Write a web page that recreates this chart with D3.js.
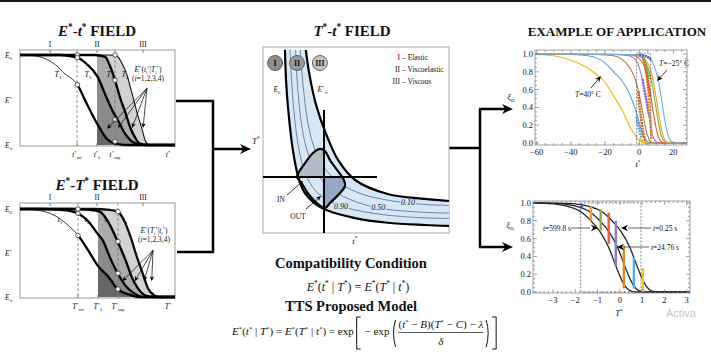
<!DOCTYPE html>
<html>
<head>
<meta charset="utf-8">
<script src="https://cdn.jsdelivr.net/npm/d3@7"></script>
<style>
  body { margin: 0; background: #fff; }
  svg { display: block; }
  svg text { font-family: "Liberation Serif", "DejaVu Serif", serif; fill: #111; }
</style>
</head>
<body>
<div id="chart"></div>
<script>
// ---------- E*-t* field (t* 0..10, E* 0..1) ----------
const regionNames = ['I', 'II', 'III'];
const regionT = [1.94, 4.97, 7.94];
const etT1 = [[0.1, 1], [1, 0.99], [1.6, 0.96], [2.3, 0.89], [2.9, 0.79], [3.7, 0.67], [4.3, 0.46], [5, 0.23], [5.6, 0.07], [6.3, 0.01], [7.1, 0], [10, 0]];
const etT2 = [[0, 1], [2.6, 1], [3.7, 0.97], [4.3, 0.9], [5, 0.76], [5.6, 0.52], [6, 0.37], [6.3, 0.28], [6.8, 0.12], [7.3, 0.03], [8, 0], [10, 0]];
const etT3 = [[0, 1], [4.8, 1], [5.5, 0.98], [5.8, 0.88], [6.13, 0.72], [6.45, 0.53], [6.8, 0.36], [7.1, 0.2], [7.4, 0.09], [7.7, 0.02], [8.3, 0], [10, 0]];
const etT4 = [[0, 1], [5.8, 1], [6.3, 0.98], [6.6, 0.9], [6.9, 0.78], [7.2, 0.59], [7.55, 0.36], [7.9, 0.16], [8.1, 0.04], [8.4, 0], [10, 0]];
const etMarks = [[3.7, 1], [3.7, 0.97], [3.7, 0.67], [6.13, 1], [6.13, 0.72], [6.13, 0.28], [6.13, 0.04]];
const etLimits = [3.68, 4.97, 6.13]; // t*inf, t*lambda, t*sup
const etCurveLabelPos = [[2.45, 0.76], [4.39, 0.76], [5.81, 0.76], [6.77, 0.76]];
const etArrowTips = [[5.61, 0.18], [6.32, 0.19], [7.23, 0.19], [7.94, 0.19]];

// ---------- E*-T* field ----------
const eTt1 = [[0.1, 1], [1, 0.99], [1.6, 0.97], [2.3, 0.92], [3, 0.83], [3.75, 0.7], [4.4, 0.53], [5, 0.36], [5.7, 0.23], [6.3, 0.09], [7, 0.03], [7.7, 0], [10, 0]];
const eTt2 = [[0, 1], [1.3, 1], [2.6, 0.99], [3.2, 0.98], [3.75, 0.95], [4.4, 0.86], [5, 0.72], [5.35, 0.64], [5.8, 0.45], [6.3, 0.27], [6.85, 0.12], [7.3, 0.05], [8, 0], [10, 0]];
const eTt3 = [[0, 1], [3.2, 1], [4.5, 0.99], [5.15, 0.97], [5.7, 0.85], [6.3, 0.63], [6.85, 0.4], [7.2, 0.23], [7.6, 0.1], [8.05, 0.02], [8.7, 0], [10, 0]];
const eTt4 = [[0, 1], [4.8, 1], [5.8, 0.99], [6.3, 0.97], [6.7, 0.875], [7.1, 0.7], [7.55, 0.45], [7.95, 0.25], [8.25, 0.1], [8.65, 0.02], [9, 0], [10, 0]];
const eTMarks = [[3.74, 1], [3.74, 0.95], [3.74, 0.7], [6.32, 0.97], [6.32, 0.63], [6.32, 0.27], [6.32, 0.09]];
const eTLimits = [3.74, 5.03, 6.32];
const eTCurveLabelPos = [[2.58, 0.85], [4.32, 0.85], [5.61, 0.85], [6.77, 0.85]];
const eTArrowTips = [[6.6, 0.18], [7.4, 0.18], [8.0, 0.18], [8.5, 0.18]];

// ---------- T*-t* field (t* 0..10, T* 0..10) ----------
const bandOuter = [[1.18, 9.85], [1.24, 8.2], [1.34, 6.8], [1.6, 4.5], [1.9, 3.0], [2.25, 2.15], [3.15, 1.35], [4.95, 0.8], [6.7, 0.55], [8.7, 0.43], [10, 0.38]];
const bandInner = [[2.3, 9.85], [2.5, 8.5], [2.85, 6.9], [3.4, 5.3], [4.05, 3.9], [4.95, 2.85], [6.7, 2.1], [8.7, 1.83], [10, 1.72]];
const contour90 = [[1.45, 9.85], [1.55, 8], [1.72, 6], [1.95, 4.4], [2.35, 3.0], [3.0, 2.1], [4.2, 1.45], [6, 1.05], [8, 0.85], [10, 0.78]];
const contour50 = [[1.75, 9.85], [1.85, 8], [2.05, 6], [2.35, 4.5], [2.85, 3.3], [3.6, 2.4], [4.8, 1.75], [6.2, 1.35], [8, 1.15], [10, 1.07]];
const contour10 = [[2.0, 9.85], [2.15, 8], [2.4, 6], [2.75, 4.6], [3.3, 3.5], [4.1, 2.7], [5.3, 2.1], [6.8, 1.75], [8.5, 1.55], [10, 1.48]];
const contourLabels = [['0.90', 4.2, 1.45], ['0.50', 6.2, 1.35], ['0.10', 7.8, 1.63]];
const compatBlob = [[1.83, 3.01], [2.26, 3.76], [2.69, 4.3], [3.06, 4.52], [3.33, 4.41], [3.6, 3.92], [3.98, 3.39], [4.35, 2.85], [4.41, 2.53], [4.14, 2.15], [3.6, 1.61], [3.33, 1.34], [2.9, 1.61], [2.37, 2.2], [2.04, 2.74]];
const crossT = 3.28, crossTT = 3.01;
const regionCircles = [[0.65, 9.14], [1.83, 9.14], [3.06, 9.14]];
const regionFill = ['#8e8e8e', '#9a9a9e', '#c4c4c4'];
const legendNum = ['I', 'II', 'III'];
const legendText = ['Elastic', 'Viscoelastic', 'Viscous'];

// ---------- example: xi vs t* ----------
const tempYellow = [[-61, 0.995], [-50, 0.98], [-40, 0.93], [-30, 0.84], [-25, 0.77], [-20, 0.68], [-15, 0.53], [-10, 0.37], [-5, 0.17], [-2, 0.08], [0, 0.03], [3, 0.005], [6, 0], [28, 0]];
const tempBlue = [[-61, 1], [-40, 0.995], [-30, 0.98], [-20, 0.9], [-15, 0.8], [-8, 0.64], [-5, 0.52], [-3, 0.42], [-1, 0.3], [1, 0.16], [3, 0.06], [5, 0.015], [8, 0], [28, 0]];
const tempBrown = [[-61, 1], [-25, 0.995], [-15, 0.98], [-10, 0.94], [-5, 0.83], [-2, 0.7], [0, 0.55], [2, 0.35], [4, 0.15], [6, 0.03], [8, 0], [28, 0]];
const tempPurple = [[-61, 1], [-15, 0.995], [-6, 0.98], [-1, 0.9], [2, 0.7], [4, 0.5], [6, 0.27], [8, 0.08], [10, 0.015], [12, 0], [28, 0]];
const tempRed = [[-61, 1], [-10, 0.995], [-3, 0.98], [2, 0.9], [5, 0.72], [7, 0.5], [9, 0.26], [11, 0.08], [13, 0.015], [15, 0], [28, 0]];
const tempGreen = [[-61, 1], [-8, 0.995], [-1, 0.98], [4, 0.9], [7, 0.72], [9, 0.5], [11, 0.26], [13, 0.08], [15, 0.015], [17, 0], [28, 0]];
const tempOrange = [[-61, 1], [-6, 0.995], [0, 0.98], [5, 0.9], [8, 0.72], [10, 0.5], [12, 0.26], [14, 0.08], [16, 0.015], [18, 0], [28, 0]];
const tempSky = [[-61, 1], [-2, 0.995], [4, 0.98], [8, 0.9], [11, 0.72], [13, 0.5], [15, 0.26], [17, 0.08], [19, 0.015], [21, 0], [28, 0]];
const tempCurves = [tempYellow, tempBlue, tempBrown, tempPurple, tempRed, tempGreen, tempOrange, tempSky];
const tempColors = ['#f2b600', '#5aa0d8', '#c8753a', '#9a7ac8', '#ea5a30', '#86b13c', '#f0a030', '#6aaee4'];
const obsBlue = [[0, 0.99], [3, 0.98], [5, 0.965], [7, 0.94]];
const obsGreen = [[2, 0.97], [3.5, 0.9], [5, 0.8], [6, 0.72]];
const obsRed = [[2.5, 0.95], [4, 0.82], [5.5, 0.65], [6.5, 0.52]];
const obsOrange = [[4, 0.85], [5, 0.65], [6, 0.4], [7, 0.15], [7.5, 0.05]];
const obsPurple = [[2, 0.72], [3, 0.6], [4.5, 0.45], [6, 0.3]];
const obsBrown = [[-0.5, 0.58], [0, 0.45], [1, 0.3], [2, 0.15], [3, 0.06], [4, 0.02]];
const obsSky = [[-1.5, 0.3], [-0.5, 0.2], [0.5, 0.12], [1.5, 0.06]];
const obsYellow = [[0, 0.05], [1.5, 0.03], [3, 0.01], [5, 0.005]];
const obsSeries = [obsYellow, obsSky, obsBrown, obsPurple, obsOrange, obsRed, obsGreen, obsBlue];
const obsColors = ['#f2b600', '#4aa8e0', '#b86a2a', '#8a6cc8', '#f09020', '#e84a28', '#78a830', '#3a64c0'];
const tTicks = [-60, -40, -20, 0, 20];
const xiTicks = [0, 0.2, 0.4, 0.6, 0.8, 1.0];
const topWindow = [[-1.5, 6.7], [-0.01, 1.01]];

// ---------- example: xi vs T* ----------
const time599 = [[-3.9, 1], [-3.3, 0.995], [-2.8, 0.985], [-2.3, 0.96], [-1.8, 0.91], [-1.3, 0.8], [-0.9, 0.68], [-0.5, 0.5], [-0.25, 0.34], [0, 0.18], [0.25, 0.06], [0.5, 0.01], [0.75, 0], [3.15, 0]];
const time24 = [[-3.9, 1], [-2.9, 0.995], [-2.4, 0.985], [-1.9, 0.96], [-1.4, 0.91], [-0.9, 0.8], [-0.5, 0.68], [-0.1, 0.5], [0.15, 0.34], [0.4, 0.18], [0.65, 0.06], [0.9, 0.01], [1.15, 0], [3.15, 0]];
const time025 = [[-3.9, 1], [-2.4, 0.995], [-1.85, 0.985], [-1.35, 0.96], [-0.85, 0.91], [-0.35, 0.8], [0.05, 0.68], [0.45, 0.5], [0.7, 0.34], [0.95, 0.18], [1.2, 0.06], [1.45, 0.01], [1.7, 0], [3.15, 0]];
const barT = [-1.7, -1.3, -0.86, -0.5, -0.18, 0.18, 0.63, 1.03];
const barLo = [0.93, 0.8, 0.69, 0.54, 0.3, 0.04, 0.04, 0.0];
const barHi = [0.99, 0.96, 0.93, 0.89, 0.8, 0.52, 0.39, 0.27];
const barColors = ['#3a64c0', '#f0a030', '#86b13c', '#f06030', '#8a7ad0', '#e08a20', '#4ab0e0', '#f0c020'];
const TTicks = [-3, -2, -1, 0, 1, 2, 3];
const bottomWindow = [[-1.76, 0.95], [0, 1.0]];

// ---------------------------------------------------------------
const W = 711, H = 362;
const SERIF = '"Liberation Serif", "DejaVu Serif", serif';
const svg = d3.select('#chart').append('svg').attr('width', W).attr('height', H)
  .attr('font-family', SERIF);
const defs = svg.append('defs');

svg.append('rect').attr('x', 0).attr('y', 0).attr('width', W).attr('height', 2).attr('fill', '#1a1a1a');

// rich text: parts = [text, flags] ; flags i=italic b=bold ^=sup _=sub
function rich(g, x, y, parts, size, anchor) {
  const t = g.append('text').attr('x', x).attr('y', y).style('font-family', SERIF)
    .attr('font-size', size).attr('text-anchor', anchor || 'start');
  let cur = 0;
  parts.forEach(([s, f = '']) => {
    const lvl = f.includes('^') ? -0.4 * size : f.includes('_') ? 0.25 * size : 0;
    const sp = t.append('tspan').text(s).attr('dy', lvl - cur);
    cur = lvl;
    if (lvl) sp.attr('font-size', size * 0.62);
    if (f.includes('i')) sp.attr('font-style', 'italic');
    if (f.includes('b')) sp.attr('font-weight', 'bold');
  });
  return t;
}

function arrowHead(g, x, y, ang, h) {
  g.append('path')
    .attr('d', `M0,0L${-h},${-h * 0.45}L${-h * 0.7},0L${-h},${h * 0.45}Z`)
    .attr('transform', `translate(${x},${y}) rotate(${ang * 180 / Math.PI})`)
    .attr('fill', '#000');
}

function arrow(g, x1, y1, x2, y2, w, h) {
  const a = Math.atan2(y2 - y1, x2 - x1);
  g.append('line').attr('x1', x1).attr('y1', y1)
    .attr('x2', x2 - Math.cos(a) * h * 0.6).attr('y2', y2 - Math.sin(a) * h * 0.6)
    .attr('stroke', '#000').attr('stroke-width', w);
  arrowHead(g, x2, y2, a, h);
}

// ---------- left field panels ----------
function fieldPanel(o) {
  const x = d3.scaleLinear().domain([0, 10]).range([20, 175]);
  const y = d3.scaleLinear().domain([0, 1]).range([o.yBot, o.yTop]);
  const g = svg.append('g');
  const line = d3.line().x(d => x(d[0])).y(d => y(d[1])).curve(d3.curveMonotoneX);
  const area = d3.area().x(d => x(d[0])).y0(y(0)).y1(d => y(d[1])).curve(d3.curveMonotoneX);

  rich(g, 97, o.titleY, o.title, 15, 'middle');

  g.append('rect').attr('x', 20).attr('y', o.boxTop).attr('width', 155).attr('height', o.boxBot - o.boxTop)
    .attr('fill', '#fff').attr('stroke', '#999').attr('stroke-width', 1);

  const cid = 'clipL' + o.id;
  defs.append('clipPath').attr('id', cid).append('rect')
    .attr('x', x(o.limits[1])).attr('y', o.boxTop).attr('width', 175 - x(o.limits[1])).attr('height', o.boxBot - o.boxTop);
  const sh = g.append('g').attr('clip-path', `url(#${cid})`);
  const fills = ['#d2d2d2', '#ababab', '#8a8a8a', '#666'];
  [o.curves[3], o.curves[2], o.curves[1], o.curves[0]].forEach((c, i) => {
    sh.append('path').attr('d', area(c)).attr('fill', fills[i]);
  });

  // dashed limit lines
  [o.limits[0], o.limits[2]].forEach(v => {
    g.append('line').attr('x1', x(v)).attr('x2', x(v)).attr('y1', o.boxTop).attr('y2', o.boxBot)
      .attr('stroke', '#777').attr('stroke-width', 0.8).attr('stroke-dasharray', '3,2');
  });

  // ticks
  regionT.forEach((v, i) => {
    g.append('line').attr('x1', x(v)).attr('x2', x(v)).attr('y1', o.boxTop).attr('y2', o.boxTop + 3).attr('stroke', '#777');
    g.append('text').attr('x', x(v)).attr('y', o.boxTop - 3).attr('text-anchor', 'middle')
      .attr('font-size', 7.5).text(regionNames[i]);
  });
  o.limits.forEach(v => {
    g.append('line').attr('x1', x(v)).attr('x2', x(v)).attr('y1', o.boxBot).attr('y2', o.boxBot - 3).attr('stroke', '#777');
  });

  // curves
  const cidT = 'clipT' + o.id;
  defs.append('clipPath').attr('id', cidT).append('rect')
    .attr('x', x(o.limits[0])).attr('y', 0).attr('width', 200).attr('height', H);
  g.append('path').attr('d', line(o.curves[0])).attr('fill', 'none').attr('stroke', '#222').attr('stroke-width', 0.9);
  g.append('path').attr('d', line(o.curves[0])).attr('fill', 'none').attr('stroke', '#000').attr('stroke-width', 2.3)
    .attr('clip-path', `url(#${cidT})`);
  g.append('path').attr('d', line(o.curves[3])).attr('fill', 'none').attr('stroke', '#111').attr('stroke-width', o.t4w);
  [o.curves[1], o.curves[2]].forEach(c => {
    g.append('path').attr('d', line(c)).attr('fill', 'none').attr('stroke', '#000').attr('stroke-width', 2.3);
  });

  // markers
  g.selectAll('circle.mk').data(o.marks).enter().append('circle')
    .attr('cx', d => x(d[0])).attr('cy', d => y(d[1])).attr('r', 2.3)
    .attr('fill', '#fff').attr('stroke', '#333').attr('stroke-width', 0.8);

  // curve labels
  o.curveLabelPos.forEach((p, i) => {
    rich(g, x(p[0]), y(p[1]), [[o.curveSym, 'i'], [String(i + 1), '_']], 8, 'middle');
  });

  // fan arrows
  const ox = x(o.fanFrom[0]), oy = y(o.fanFrom[1]);
  o.tips.forEach(p => arrow(g, ox, oy, x(p[0]), y(p[1]), 0.7, 5));
  rich(g, x(o.fanFrom[0]) + 1, o.noteY, o.note, 7.5, 'middle');
  rich(g, x(o.fanFrom[0]) + 1, o.noteY + 9, [['(', ''], ['i', 'i'], ['=1,2,3,4)', '']], 7.5, 'middle');

  // left labels
  rich(g, 5, y(1) + 3, [['E', 'i'], ['0', '_']], 7.5);
  rich(g, 5, y(0.5) + 3, [['E', 'i'], ['*', '^']], 7.5);
  rich(g, 5, y(0) + 3, [['E', 'i'], ['∞', '_']], 7.5);

  // bottom labels
  const sub = ['inf', 'λ', 'sup'];
  o.limits.forEach((v, i) => {
    rich(g, x(v), o.boxBot + 11, [[o.axisSym, 'i'], ['*', '^'], [sub[i], '_']], 7.5, 'middle');
  });
  rich(g, x(9.55), o.boxBot + 11, [[o.axisSym, 'i'], ['*', '^']], 7.5, 'middle');
}

fieldPanel({
  id: 1, yTop: 55, yBot: 145, boxTop: 50, boxBot: 146, titleY: 36,
  title: [['E', 'bi'], ['*', 'b^'], ['-', 'b'], ['t', 'bi'], ['*', 'b^'], [' FIELD', 'b']],
  curves: [etT1, etT2, etT3, etT4], marks: etMarks, limits: etLimits, curveLabelPos: etCurveLabelPos,
  curveSym: 'T', axisSym: 't', t4w: 1.1, fanFrom: [8.19, 0.63], tips: etArrowTips, noteY: 72,
  note: [['E', 'i'], ['*', '^'], ['(', ''], ['t', 'i'], ['i', '_'], ['*', '^'], ['|', ''], ['T', 'i'], ['i', '_'], ['*', '^'], [')', '']]
});
fieldPanel({
  id: 2, yTop: 209, yBot: 297, boxTop: 203, boxBot: 298, titleY: 190,
  title: [['E', 'bi'], ['*', 'b^'], ['-', 'b'], ['T', 'bi'], ['*', 'b^'], [' FIELD', 'b']],
  curves: [eTt1, eTt2, eTt3, eTt4], marks: eTMarks, limits: eTLimits, curveLabelPos: eTCurveLabelPos,
  curveSym: 't', axisSym: 'T', t4w: 2.3, fanFrom: [8.58, 0.53], tips: eTArrowTips, noteY: 233,
  note: [['E', 'i'], ['*', '^'], ['(', ''], ['T', 'i'], ['i', '_'], ['*', '^'], ['|', ''], ['t', 'i'], ['i', '_'], ['*', '^'], [')', '']]
});

// ---------- connectors ----------
const conn = svg.append('g');
conn.append('path').attr('d', 'M176,101H213V252H177').attr('fill', 'none').attr('stroke', '#000').attr('stroke-width', 2.5);
arrow(conn, 213, 149, 251, 149, 2.5, 11);
conn.append('path').attr('d', 'M449,148H480M480,109V247').attr('fill', 'none').attr('stroke', '#000').attr('stroke-width', 2.5);
arrow(conn, 479, 109, 513, 109, 2.5, 11);
arrow(conn, 479, 247, 513, 247, 2.5, 11);

// ---------- T*-t* field ----------
{
  const x = d3.scaleLinear().domain([0, 10]).range([263, 449]);
  const y = d3.scaleLinear().domain([0, 10]).range([233, 47]);
  const g = svg.append('g');
  const line = d3.line().x(d => x(d[0])).y(d => y(d[1])).curve(d3.curveCatmullRom);

  rich(g, 352, 36, [['T', 'bi'], ['*', 'b^'], ['-', 'b'], ['t', 'bi'], ['*', 'b^'], [' FIELD', 'b']], 15, 'middle');

  g.append('rect').attr('x', 263).attr('y', 47).attr('width', 186).attr('height', 186)
    .attr('fill', '#fff').attr('stroke', '#aaa').attr('stroke-width', 1);

  const pOut = line(bandOuter), pIn = line(bandInner.slice().reverse());
  g.append('path').attr('d', pOut + 'L' + pIn.slice(1) + 'Z').attr('fill', '#d6e8f8');

  [contour90, contour50, contour10].forEach(c => {
    g.append('path').attr('d', line(c)).attr('fill', 'none').attr('stroke', '#44586e').attr('stroke-width', 0.7);
  });
  contourLabels.forEach(([s, a, b]) => {
    g.append('text').attr('x', x(a)).attr('y', y(b) + 2.5).attr('text-anchor', 'middle')
      .attr('font-size', 8).attr('font-style', 'italic')
      .attr('stroke', '#d6e8f8').attr('stroke-width', 3).attr('paint-order', 'stroke').text(s);
  });

  // compatibility blob
  const blobLine = d3.line().x(d => x(d[0])).y(d => y(d[1])).curve(d3.curveCatmullRomClosed);
  defs.append('clipPath').attr('id', 'blobClip').append('path').attr('d', blobLine(compatBlob));
  const bq = g.append('g').attr('clip-path', 'url(#blobClip)');
  bq.append('rect').attr('x', x(0)).attr('y', y(10)).attr('width', x(crossT) - x(0)).attr('height', y(crossTT) - y(10)).attr('fill', '#b2bcc7');
  bq.append('rect').attr('x', x(crossT)).attr('y', y(crossTT)).attr('width', x(10) - x(crossT)).attr('height', y(0) - y(crossTT)).attr('fill', '#95a8c6');

  g.append('path').attr('d', pOut).attr('fill', 'none').attr('stroke', '#000').attr('stroke-width', 2.2);
  g.append('path').attr('d', line(bandInner)).attr('fill', 'none').attr('stroke', '#000').attr('stroke-width', 2.2);

  g.append('line').attr('x1', x(0)).attr('x2', x(6.13)).attr('y1', y(crossTT)).attr('y2', y(crossTT)).attr('stroke', '#000').attr('stroke-width', 2);
  g.append('line').attr('x1', x(crossT)).attr('x2', x(crossT)).attr('y1', y(6.61)).attr('y2', y(0)).attr('stroke', '#000').attr('stroke-width', 2);
  bq.append('line').attr('x1', x(0)).attr('x2', x(crossT)).attr('y1', y(crossTT)).attr('y2', y(crossTT)).attr('stroke', '#888').attr('stroke-width', 2.2);
  bq.append('line').attr('x1', x(crossT)).attr('x2', x(crossT)).attr('y1', y(crossTT)).attr('y2', y(0)).attr('stroke', '#888').attr('stroke-width', 2.2);
  g.append('path').attr('d', blobLine(compatBlob)).attr('fill', 'none').attr('stroke', '#000').attr('stroke-width', 2.2);

  // region circles
  regionCircles.forEach((p, i) => {
    g.append('circle').attr('cx', x(p[0])).attr('cy', y(p[1])).attr('r', 7.5)
      .attr('fill', regionFill[i]).attr('stroke', '#444').attr('stroke-width', 0.8);
    g.append('text').attr('x', x(p[0])).attr('y', y(p[1]) + 3).attr('text-anchor', 'middle')
      .attr('font-size', 8).attr('font-weight', 'bold').text(legendNum[i]);
  });
  legendNum.forEach((s, i) => {
    g.append('text').attr('x', 400).attr('y', 60 + i * 12).attr('text-anchor', 'end').attr('font-size', 7.5).text(s);
    g.append('text').attr('x', 402).attr('y', 60 + i * 12).attr('font-size', 7.5).text('– ' + legendText[i]);
  });
  rich(g, x(0.75), y(7.6), [['E', 'i'], ['0', '_']], 7.5, 'middle');
  rich(g, x(3.2), y(7.6), [['E', 'i'], ['*', '^'], ['∞', '_']], 7.5, 'middle');

  g.append('text').attr('x', 281).attr('y', 202).attr('text-anchor', 'middle').attr('font-size', 7.5).text('IN');
  g.append('text').attr('x', 298).attr('y', 219).attr('text-anchor', 'middle').attr('font-size', 7.5).text('OUT');
  arrow(g, 287, 195, 303, 181, 0.8, 5);
  arrow(g, 306, 209, 321, 196, 0.8, 5);

  rich(g, 355, 244, [['t', 'i'], ['*', '^']], 9, 'middle');
  rich(g, 252, 144, [['T', 'i'], ['*', '^']], 9, 'start');
}

// ---------- formulas ----------
{
  const g = svg.append('g');
  rich(g, 351, 268, [['Compatibility Condition', 'b']], 14.5, 'middle');
  rich(g, 358, 291, [['E', 'i'], ['*', '^'], ['(', ''], ['t', 'i'], ['*', '^'], [' | ', ''], ['T', 'i'], ['*', '^'],
    [') = ', ''], ['E', 'i'], ['*', '^'], ['(', ''], ['T', 'i'], ['*', '^'], [' | ', ''], ['t', 'i'], ['*', '^'], [')', '']], 12, 'middle');
  rich(g, 351, 311, [['TTS Proposed Model', 'b']], 14.5, 'middle');

  let fx = 232;
  const fy = 335;
  const t1 = rich(g, fx, fy, [['E', 'i'], ['*', '^'], ['(', ''], ['t', 'i'], ['*', '^'], [' | ', ''], ['T', 'i'], ['*', '^'],
    [') = ', ''], ['E', 'i'], ['*', '^'], ['(', ''], ['T', 'i'], ['*', '^'], [' | ', ''], ['t', 'i'], ['*', '^'], [') = exp', '']], 11);
  fx += t1.node().getComputedTextLength() + 3;
  const pth = d => g.append('path').attr('d', d).attr('fill', 'none').attr('stroke', '#111').attr('stroke-width', 1);
  pth(`M${fx + 4},317H${fx}V349H${fx + 4}`);
  fx += 8;
  const t2 = rich(g, fx, fy, [['− exp', '']], 11);
  fx += t2.node().getComputedTextLength() + 3;
  pth(`M${fx + 3},320Q${fx - 1},333 ${fx + 3},347`);
  fx += 6;
  const num = rich(g, fx, 328, [['(', ''], ['t', 'i'], ['*', '^'], [' − ', ''], ['B', 'i'], [')(', ''], ['T', 'i'], ['*', '^'],
    [' − ', ''], ['C', 'i'], [') − ', ''], ['λ', 'i']], 11);
  const nw = num.node().getComputedTextLength();
  g.append('line').attr('x1', fx).attr('x2', fx + nw).attr('y1', 332.5).attr('y2', 332.5).attr('stroke', '#111').attr('stroke-width', 0.7);
  rich(g, fx + nw / 2, 345, [['δ', 'i']], 11, 'middle');
  fx += nw + 3;
  pth(`M${fx},320Q${fx + 4},333 ${fx},347`);
  fx += 6;
  pth(`M${fx},317H${fx + 4}V349H${fx}`);
}

// ---------- example panels ----------
function framedAxes(g, x, y, xTicks, xMinor, yTicks, yMinor, xFmt, yFmt) {
  const [x0, x1] = x.range(), [y0, y1] = y.range();
  g.append('rect').attr('x', x0).attr('y', y1).attr('width', x1 - x0).attr('height', y0 - y1)
    .attr('fill', 'none').attr('stroke', '#888').attr('stroke-width', 0.8);
  const tk = (vals, len, horiz) => vals.forEach(v => {
    if (horiz) {
      g.append('line').attr('x1', x(v)).attr('x2', x(v)).attr('y1', y0).attr('y2', y0 - len).attr('stroke', '#777').attr('stroke-width', 0.7);
      g.append('line').attr('x1', x(v)).attr('x2', x(v)).attr('y1', y1).attr('y2', y1 + len).attr('stroke', '#777').attr('stroke-width', 0.7);
    } else {
      g.append('line').attr('y1', y(v)).attr('y2', y(v)).attr('x1', x0).attr('x2', x0 + len).attr('stroke', '#777').attr('stroke-width', 0.7);
      g.append('line').attr('y1', y(v)).attr('y2', y(v)).attr('x1', x1).attr('x2', x1 - len).attr('stroke', '#777').attr('stroke-width', 0.7);
    }
  });
  tk(xTicks, 4, true); tk(xMinor, 2, true); tk(yTicks, 4, false); tk(yMinor, 2, false);
  xTicks.forEach(v => rich(g, x(v), y0 + 10, [[xFmt(v), '']], 8.5, 'middle'));
  yTicks.forEach(v => rich(g, x0 - 2, y(v) + 3, [[yFmt(v), '']], 8.5, 'end'));
}

{
  rich(svg, 617, 36, [['EXAMPLE OF APPLICATION', 'b']], 13, 'middle');
  const x = d3.scaleLinear().domain([-61, 28]).range([535, 687]);
  const y = d3.scaleLinear().domain([-0.022, 1.045]).range([145, 50]);
  const g = svg.append('g');
  const minorX = d3.range(-60, 28, 5).filter(v => v % 20 !== 0);
  const minorY = d3.range(0, 1.04, 0.05).filter(v => Math.abs(v * 5 - Math.round(v * 5)) > 1e-6);
  defs.append('clipPath').attr('id', 'clipA').append('rect').attr('x', 535).attr('y', 50).attr('width', 152).attr('height', 95);
  const pg = g.append('g').attr('clip-path', 'url(#clipA)');
  const line = d3.line().x(d => x(d[0])).y(d => y(d[1])).curve(d3.curveMonotoneX);
  g.append('rect').attr('x', x(topWindow[0][0])).attr('y', y(topWindow[1][1]))
    .attr('width', x(topWindow[0][1]) - x(topWindow[0][0])).attr('height', y(topWindow[1][0]) - y(topWindow[1][1]))
    .attr('fill', 'none').attr('stroke', '#555').attr('stroke-width', 0.7).attr('stroke-dasharray', '2,1.5');
  tempCurves.forEach((c, i) => {
    pg.append('path').attr('d', line(c)).attr('fill', 'none').attr('stroke', tempColors[i]).attr('stroke-width', 1.1);
  });
  obsSeries.forEach((c, i) => {
    pg.append('path').attr('d', line(c)).attr('fill', 'none').attr('stroke', obsColors[i]).attr('stroke-width', 2.6)
      .attr('stroke-dasharray', '2,0.8');
  });
  framedAxes(g, x, y, tTicks, minorX, xiTicks, minorY, d3.format('d'), d3.format('.1f'));
  rich(g, 638, 167, [['t', 'i'], ['*', '^']], 8.5, 'middle');
  rich(g, 511, 100, [['ξ', 'i'], ['Ω', '_']], 8, 'middle');
  rich(g, 575, 97, [['T', 'i'], ['=40° C', '']], 7.5);
  arrow(g, 591, 88, 601, 76, 0.8, 6);
  rich(g, 659, 66, [['T', 'i'], ['=−25° C', '']], 7.5);
  arrow(g, 667, 70, 657, 81, 0.8, 6);
}

{
  const x = d3.scaleLinear().domain([-3.9, 3.15]).range([533, 690]);
  const y = d3.scaleLinear().domain([-0.011, 1.022]).range([293, 201]);
  const g = svg.append('g');
  const minorX = d3.range(-3.8, 3.15, 0.2).filter(v => Math.abs(v - Math.round(v)) > 1e-6);
  const minorY = d3.range(0, 1.02, 0.05).filter(v => Math.abs(v * 5 - Math.round(v * 5)) > 1e-6);
  const line = d3.line().x(d => x(d[0])).y(d => y(d[1])).curve(d3.curveMonotoneX);
  g.append('rect').attr('x', x(bottomWindow[0][0])).attr('y', y(bottomWindow[1][1]))
    .attr('width', x(bottomWindow[0][1]) - x(bottomWindow[0][0])).attr('height', y(bottomWindow[1][0]) - y(bottomWindow[1][1]))
    .attr('fill', 'none').attr('stroke', '#555').attr('stroke-width', 0.7).attr('stroke-dasharray', '2,1.5');
  [time599, time24, time025].forEach(c => {
    g.append('path').attr('d', line(c)).attr('fill', 'none').attr('stroke', '#222').attr('stroke-width', 1.3);
  });
  barT.forEach((v, i) => {
    g.append('line').attr('x1', x(v)).attr('x2', x(v)).attr('y1', y(barLo[i])).attr('y2', y(barHi[i]))
      .attr('stroke', barColors[i]).attr('stroke-width', 2.4);
  });
  framedAxes(g, x, y, TTicks, minorX, xiTicks, minorY, d3.format('d'), d3.format('.1f'));
  rich(g, 619, 316, [['T', 'i'], ['*', '^']], 8.5, 'middle');
  rich(g, 510, 228, [['ξ', 'i'], ['Ω', '_']], 8, 'middle');
  rich(g, 543, 231, [['t', 'i'], ['=599.8 s', '']], 7.5);
  g.append('line').attr('x1', 571).attr('x2', 590).attr('y1', 228).attr('y2', 228).attr('stroke', '#222').attr('stroke-width', 0.7);
  arrowHead(g, 598, 228, 0, 7);
  rich(g, 653, 231, [['t', 'i'], ['=0.25 s', '']], 7.5);
  g.append('line').attr('x1', 651).attr('x2', 628).attr('y1', 228).attr('y2', 228).attr('stroke', '#222').attr('stroke-width', 0.7);
  arrowHead(g, 621, 228, Math.PI, 7);
  rich(g, 651, 250, [['t', 'i'], ['=24.76 s', '']], 7.5);
  g.append('line').attr('x1', 649).attr('x2', 624).attr('y1', 247).attr('y2', 247).attr('stroke', '#222').attr('stroke-width', 0.7);
  arrowHead(g, 617, 247, Math.PI, 7);
  g.append('text').attr('x', 666).attr('y', 317).attr('font-size', 11)
    .style('font-family', '"Liberation Sans", Arial, sans-serif').style('fill', '#c8c8c8').text('Activa');
}
</script>
</body>
</html>
